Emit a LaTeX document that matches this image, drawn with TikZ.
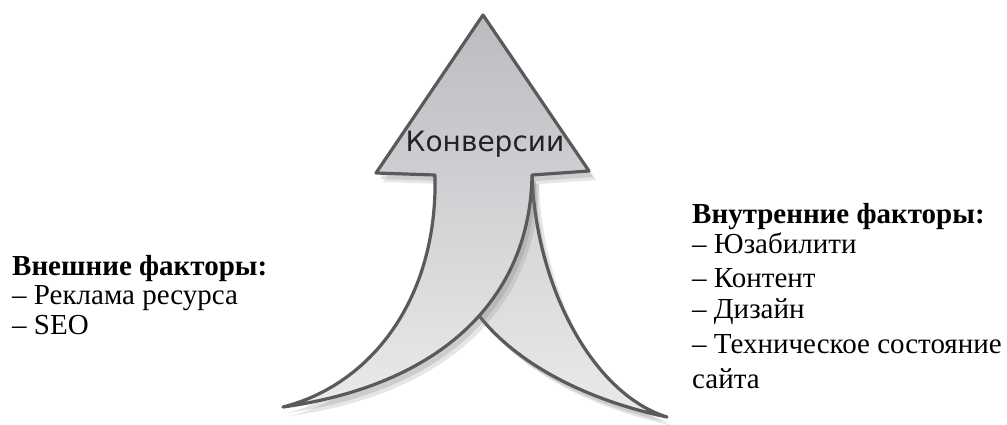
\documentclass[tikz,border=0pt]{standalone}
\usepackage{fontspec}
\setmainfont{Liberation Serif}
\newfontfamily\labelsans{DejaVu Sans}

\definecolor{arrowline}{RGB}{88,90,92}
\definecolor{shadetop}{RGB}{186,188,191}
\definecolor{shademid}{RGB}{206,208,210}
\definecolor{shadebottom}{RGB}{233,234,235}
\definecolor{shadowgray}{RGB}{120,120,122}
\definecolor{labelink}{RGB}{35,32,45}

% strand coming in from the lower right (drawn behind)
\def\backstrand{(462,175) -- (532,175)
  .. controls (536,290) and (595,395) .. (667,417)
  .. controls (585,400) and (505,360) .. (468,300)
  .. controls (458,270) and (460,220) .. (462,175) -- cycle}
% arrow head together with the strand from the lower left
\def\frontstrand{(435,175) -- (376,173) -- (483,15) -- (589,171) -- (532,175)
  .. controls (530,300) and (440,385) .. (283,407)
  .. controls (370,385) and (438,300) .. (435,175) -- cycle}

\tikzset{
  outline/.style={draw=arrowline, line width=3.2pt, line join=round},
  castshadow/.style={fill=shadowgray, draw=none},
  factortext/.style={inner sep=0pt, text=black,
    font=\fontsize{29}{30}\selectfont},
}

\begin{document}
\begin{tikzpicture}[x=1pt, y=-1pt]
  \useasboundingbox[fill=white] (0,0) rectangle (1007,425);

  % soft shadow of the back strand
  \fill[castshadow, opacity=.18, xshift=7pt, yshift=-9pt] \backstrand;
  \fill[castshadow, opacity=.22, xshift=4pt, yshift=-6pt] \backstrand;
  \path[outline, top color=shademid, bottom color=shadebottom] \backstrand;

  % soft shadow of the front strand and head
  \fill[castshadow, opacity=.18, xshift=7pt, yshift=-9pt] \frontstrand;
  \fill[castshadow, opacity=.22, xshift=4pt, yshift=-6pt] \frontstrand;
  \path[outline, top color=shadetop, bottom color=shadebottom] \frontstrand;

  \node[anchor=base, inner sep=0pt, text=labelink,
        font=\labelsans\fontsize{28}{30}\selectfont] (conv) at (485,152) {Конверсии};

  % external factors
  \node[factortext, anchor=base west] (ext0) at (12,275) {\textbf{Внешние факторы:}};
  \node[factortext, anchor=base west] (ext1) at (12,304) {– Реклама ресурса};
  \node[factortext, anchor=base west] (ext2) at (12,334) {– SEO};

  % internal factors
  \node[factortext, anchor=base west] (int0) at (692,223) {\textbf{Внутренние факторы:}};
  \node[factortext, anchor=base west] (int1) at (692,253) {– Юзабилити};
  \node[factortext, anchor=base west] (int2) at (692,287) {– Контент};
  \node[factortext, anchor=base west] (int3) at (692,318) {– Дизайн};
  \node[factortext, anchor=base west] (int4) at (692,353) {– Техническое состояние};
  \node[factortext, anchor=base west] (int5) at (692,388) {сайта};
\end{tikzpicture}
\end{document}
